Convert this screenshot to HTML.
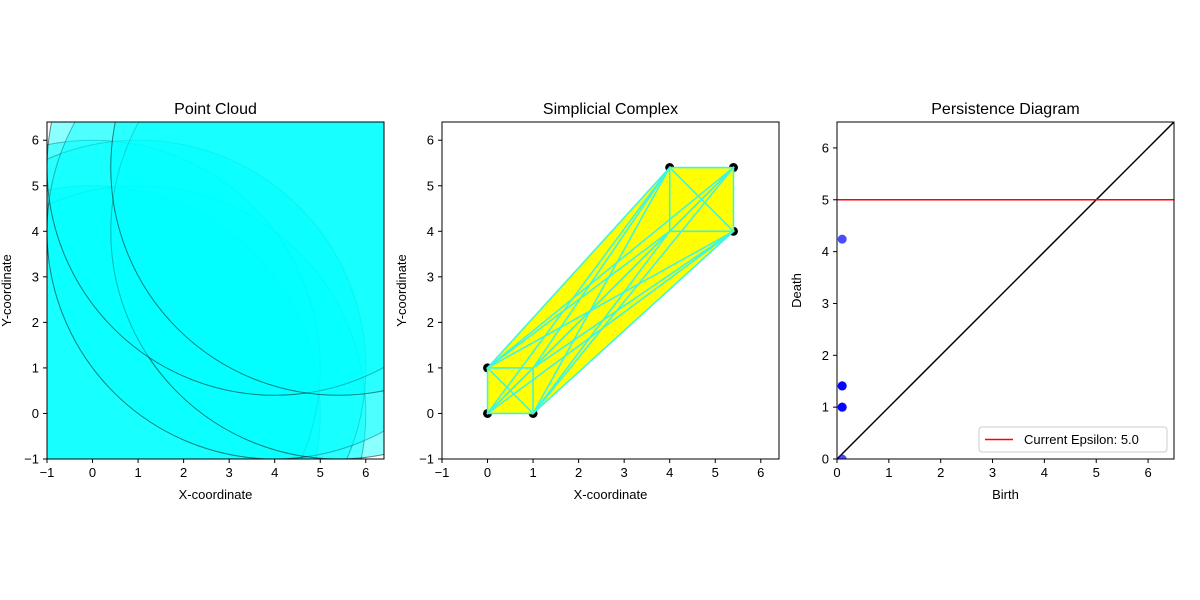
<!DOCTYPE html>
<html><head><meta charset="utf-8"><style>html,body{margin:0;background:#fff;overflow:hidden;width:1200px;height:600px}svg{display:block}svg text{font-family:"Liberation Sans","DejaVu Sans",sans-serif;fill:#000}</style></head>
<body>
<svg id="c" width="1200" height="600" xmlns="http://www.w3.org/2000/svg"></svg>
<script>
const pointsX=[0,1,0,1,4,5.4,4,5.4];
const pointsY=[0,0,1,1,4,4,5.4,5.4];
const epsilon=5.0;
const births=[0.1,0.1,0.1,0.1,0.1,0.1,0.1,0.1];
const deaths=[4.24,1.41,1.41,1.41,1.0,1.0,1.0,0];
const xTicks=[-1,0,1,2,3,4,5,6];
const pdTicks=[0,1,2,3,4,5,6];
const NS="http://www.w3.org/2000/svg";
const svg=document.getElementById('c');
function mk(tag,attrs,parent){const e=document.createElementNS(NS,tag);for(const k in attrs)e.setAttribute(k,attrs[k]);(parent||svg).appendChild(e);return e;}
function axes(x0,x1,y0,y1,xmin,xmax,ymin,ymax,xt,yt,title,xl,yl,name){
  const sx=v=>x0+(v-xmin)/(xmax-xmin)*(x1-x0);
  const sy=v=>y1-(v-ymin)/(ymax-ymin)*(y1-y0);
  const g=mk('g',{});
  
  
  const cid='clip'+name;
  const cp=mk('clipPath',{id:cid},g);mk('rect',{x:x0,y:y0,width:x1-x0,height:y1-y0},cp);
  const plot=mk('g',{'clip-path':'url(#'+cid+')'},g);
  
  
  xt.forEach(v=>{const x=sx(v);mk('line',{x1:x,x2:x,y1:y1,y2:y1+4,stroke:'#000'},g);const t=mk('text',{x:x,y:y1+18,'font-size':13,'text-anchor':'middle'},g);t.textContent=v<0?'\u2212'+(-v):v;});
  yt.forEach(v=>{const y=sy(v);mk('line',{x1:x0-4,x2:x0,y1:y,y2:y,stroke:'#000'},g);const t=mk('text',{x:x0-8,y:y+4.5,'font-size':13,'text-anchor':'end'},g);t.textContent=v<0?'\u2212'+(-v):v;});
  const tt=mk('text',{x:(x0+x1)/2,y:y0-8,'font-size':16,'text-anchor':'middle'},g);tt.textContent=title;
  
  const xa=mk('text',{x:(x0+x1)/2,y:y1+40,'font-size':13,'text-anchor':'middle'},g);xa.textContent=xl;
  
  const yc=(y0+y1)/2, yx=x0-36;
  const ya=mk('text',{x:yx,y:yc,'font-size':13,'text-anchor':'middle',transform:`rotate(-90 ${yx} ${yc})`},g);ya.textContent=yl;
  
  return {g,plot,sx,sy,frame:()=>mk('rect',{x:x0,y:y0,width:x1-x0,height:y1-y0,fill:'none',stroke:'#000','stroke-width':1},g)};
}
// Panel 1
const a1=axes(47,384,122,459,-1,6.4,-1,6.4,xTicks,xTicks,'Point Cloud','X-coordinate','Y-coordinate','point-cloud');
const k1=a1.sx(1)-a1.sx(0);
pointsX.forEach((px,i)=>{const c=mk('circle',{cx:a1.sx(px),cy:a1.sy(pointsY[i]),r:epsilon*k1,fill:'#00ffff','fill-opacity':0.45,stroke:'#000','stroke-opacity':0.5},a1.plot);
});
a1.frame();
// Panel 2
const a2=axes(442,779,122,459,-1,6.4,-1,6.4,xTicks,xTicks,'Simplicial Complex','X-coordinate','Y-coordinate','simplicial-complex');
pointsX.forEach((px,i)=>{const c=mk('circle',{cx:a2.sx(px),cy:a2.sy(pointsY[i]),r:4.5,fill:'#000'},a2.g);
});
const n=pointsX.length;
for(let i=0;i<n;i++)for(let j=i+1;j<n;j++)for(let k=j+1;k<n;k++){
  const p=mk('polygon',{points:[i,j,k].map(q=>a2.sx(pointsX[q])+','+a2.sy(pointsY[q])).join(' '),fill:'#ffff00',stroke:'#ffff00','stroke-width':1},a2.g);
  
}
for(let i=0;i<n;i++)for(let j=i+1;j<n;j++){
  const l=mk('line',{x1:a2.sx(pointsX[i]),y1:a2.sy(pointsY[i]),x2:a2.sx(pointsX[j]),y2:a2.sy(pointsY[j]),stroke:'#40f5e0','stroke-width':1.6,'stroke-linecap':'round'},a2.g);
  
}
a2.frame();
// Panel 3
const a3=axes(837,1174,122,459,0,6.5,0,6.5,pdTicks,pdTicks,'Persistence Diagram','Birth','Death','persistence-diagram');
const dg=mk('line',{x1:a3.sx(0),y1:a3.sy(0),x2:a3.sx(6.5),y2:a3.sy(6.5),stroke:'#000','stroke-width':1.5},a3.plot);

const el=mk('line',{x1:a3.sx(0),y1:a3.sy(epsilon),x2:a3.sx(6.5),y2:a3.sy(epsilon),stroke:'#ff0000','stroke-width':1.5},a3.plot);

births.forEach((b,i)=>{const c=mk('circle',{cx:a3.sx(b),cy:a3.sy(deaths[i]),r:4.5,fill:'#0000ff','fill-opacity':0.7},a3.plot);
});
a3.frame();
const lg=mk('g',{},a3.g);

mk('rect',{x:979,y:427,width:188,height:25,rx:3,fill:'#fff','fill-opacity':0.8,stroke:'#ccc'},lg);
mk('line',{x1:985,x2:1013,y1:439.5,y2:439.5,stroke:'#ff0000','stroke-width':1.5},lg);
const lt=mk('text',{x:1024,y:444,'font-size':13},lg);lt.textContent='Current Epsilon: '+epsilon.toFixed(1);
</script>
</body></html>
